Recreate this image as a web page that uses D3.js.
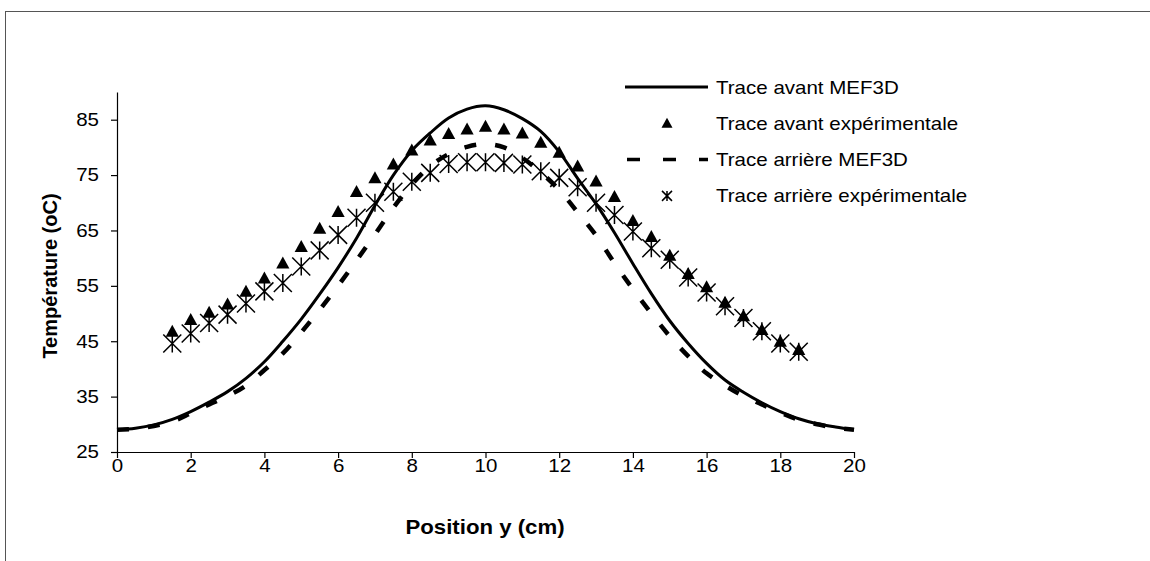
<!DOCTYPE html>
<html>
<head>
<meta charset="utf-8">
<script src="https://cdn.jsdelivr.net/npm/d3@7"></script>
<style>
  body { margin: 0; background: #fff; }
  svg text { font-family: "Liberation Sans", Arial, sans-serif; fill: #000; }
</style>
</head>
<body>
<svg id="chart" width="1150" height="561"></svg>
<script>
// simulated traces (MEF3D), every 0.5 cm
const simPositions = [0, 0.5, 1, 1.5, 2, 2.5, 3, 3.5, 4, 4.5, 5, 5.5, 6, 6.5, 7, 7.5, 8, 8.5, 9, 9.5,
  10, 10.5, 11, 11.5, 12, 12.5, 13, 13.5, 14, 14.5, 15, 15.5, 16, 16.5, 17, 17.5, 18, 18.5, 19, 19.5, 20];
const avantMef = [29.0, 29.3, 29.9, 30.9, 32.3, 34.0, 35.9, 38.3, 41.3, 45.0, 49.0, 53.5, 58.3, 63.6, 69.5, 75.0, 79.4, 82.6, 85.3, 86.9,
  87.5, 86.8, 85.2, 82.9, 79.2, 74.4, 69.8, 64.6, 59.0, 53.6, 48.7, 44.6, 41.0, 38.0, 35.8, 33.9, 32.3, 31.0, 30.1, 29.5, 29.0];
const arriereMef = [29.0, 29.2, 29.7, 30.5, 32.0, 33.6, 35.1, 37.0, 39.8, 42.8, 46.6, 50.7, 55.0, 59.6, 64.3, 69.1, 73.3, 76.6, 78.8, 80.1,
  80.6, 80.0, 78.1, 75.5, 72.3, 68.3, 64.1, 59.1, 54.4, 50.0, 45.9, 42.3, 39.2, 37.0, 35.1, 33.6, 32.1, 30.8, 30.0, 29.4, 29.0];

// measured traces, 1.5 to 18.5 cm
const expPositions = [1.5, 2, 2.5, 3, 3.5, 4, 4.5, 5, 5.5, 6, 6.5, 7, 7.5, 8, 8.5, 9, 9.5, 10, 10.5, 11,
  11.5, 12, 12.5, 13, 13.5, 14, 14.5, 15, 15.5, 16, 16.5, 17, 17.5, 18, 18.5];
const avantExp = [46.8, 48.9, 50.2, 51.7, 54.0, 56.4, 59.1, 62.1, 65.4, 68.4, 72.0, 74.5, 77.0, 79.5, 81.3, 82.5, 83.3, 83.8, 83.3, 82.6,
  80.9, 79.1, 76.6, 73.9, 71.1, 66.8, 63.9, 60.5, 57.2, 54.8, 52.0, 49.6, 47.1, 45.0, 43.5];
const arriereExp = [44.6, 46.4, 48.3, 49.8, 51.8, 54.0, 55.5, 58.5, 61.4, 64.2, 67.3, 70.0, 72.0, 73.8, 75.4, 77.0, 77.3, 77.3, 77.2, 76.9,
  75.7, 74.5, 72.8, 70.0, 67.8, 64.8, 61.8, 59.7, 56.5, 53.8, 51.3, 49.2, 46.8, 44.6, 43.1];

const xTicks = [0, 2, 4, 6, 8, 10, 12, 14, 16, 18, 20];
const yTicks = [25, 35, 45, 55, 65, 75, 85];
const legendLabels = ['Trace avant MEF3D', 'Trace avant expérimentale', 'Trace arrière MEF3D', 'Trace arrière expérimentale'];

// the scanned figure is a bit wider than tall, stretch text to match
const SX = 1.14;

const svg = d3.select('#chart');

svg.append('rect')
  .attr('x', 5.5).attr('y', 11.5)
  .attr('width', 1160).attr('height', 570)
  .attr('fill', 'none').attr('stroke', '#555').attr('stroke-width', 1);

const x = d3.scaleLinear().domain([0, 20]).range([117, 854]);
const y = d3.scaleLinear().domain([25, 90]).range([452, 92]);

const xAxis = svg.append('g')
  .attr('transform', `translate(0,${y(25)})`)
  .call(d3.axisBottom(x).tickValues(xTicks).tickSize(6).tickSizeOuter(0).tickFormat(d3.format('d')));
xAxis.selectAll('text')
  .attr('y', 7)
  .attr('font-size', 18)
  .attr('transform', `scale(${SX},1)`);

const yAxis = svg.append('g')
  .attr('transform', `translate(${x(0)},0)`)
  .call(d3.axisLeft(y).tickValues(yTicks).tickSize(6).tickSizeOuter(0).tickFormat(d3.format('d')));
yAxis.selectAll('text')
  .attr('x', -18 / SX)
  .attr('font-size', 18)
  .attr('transform', `scale(${SX},1)`);

svg.selectAll('.domain, .tick line').attr('stroke', '#000').attr('stroke-width', 1.2);

svg.append('text')
  .attr('transform', `translate(485,534) scale(${SX},1)`)
  .attr('text-anchor', 'middle')
  .attr('font-size', 19.5)
  .attr('font-weight', 'bold')
  .text('Position y (cm)');

svg.append('text')
  .attr('transform', 'translate(57,276) rotate(-90)')
  .attr('text-anchor', 'middle')
  .attr('font-size', 20)
  .attr('font-weight', 'bold')
  .text('Température (oC)');

const line = d3.line()
  .x((d) => x(d[0]))
  .y((d) => y(d[1]))
  .curve(d3.curveCatmullRom);

const tri = (s) => `M0,${-s * 0.55}L${s * 0.55},${s * 0.45}L${-s * 0.55},${s * 0.45}Z`;
const star = (s) => `M${-s},${-s}L${s},${s}M${-s},${s}L${s},${-s}M0,${-s}L0,${s}`;

const plot = svg.append('g');

// Trace avant MEF3D
plot.append('path')
  .datum(d3.zip(simPositions, avantMef))
  .attr('d', line)
  .attr('fill', 'none').attr('stroke', '#000').attr('stroke-width', 3);

// Trace avant expérimentale
plot.selectAll('.tri')
  .data(d3.zip(expPositions, avantExp))
  .join('path')
  .attr('class', 'tri')
  .attr('transform', (d) => `translate(${x(d[0])},${y(d[1])})`)
  .attr('d', tri(12))
  .attr('fill', '#000');

// Trace arrière MEF3D
plot.append('path')
  .datum(d3.zip(simPositions, arriereMef))
  .attr('d', line)
  .attr('fill', 'none').attr('stroke', '#000').attr('stroke-width', 4.5)
  .attr('stroke-dasharray', '12,19');

// Trace arrière expérimentale
plot.selectAll('.star')
  .data(d3.zip(expPositions, arriereExp))
  .join('path')
  .attr('class', 'star')
  .attr('transform', (d) => `translate(${x(d[0])},${y(d[1])})`)
  .attr('d', star(9))
  .attr('fill', 'none').attr('stroke', '#000').attr('stroke-width', 1.5);

// legend
const legend = svg.append('g');
const rowY = (i) => 87 + i * 36.3;

legend.append('line')
  .attr('x1', 625).attr('x2', 708).attr('y1', rowY(0)).attr('y2', rowY(0))
  .attr('stroke', '#000').attr('stroke-width', 3);
legend.append('path')
  .attr('transform', `translate(667,${rowY(1)})`)
  .attr('d', tri(10)).attr('fill', '#000');
legend.append('line')
  .attr('x1', 627).attr('x2', 708).attr('y1', rowY(2)).attr('y2', rowY(2))
  .attr('stroke', '#000').attr('stroke-width', 3.5)
  .attr('stroke-dasharray', '13,23');
legend.append('path')
  .attr('transform', `translate(667,${rowY(3)})`)
  .attr('d', star(5)).attr('fill', 'none').attr('stroke', '#000').attr('stroke-width', 1.5);

legend.selectAll('.label')
  .data(legendLabels)
  .join('text')
  .attr('class', 'label')
  .attr('transform', (d, i) => `translate(716,${rowY(i) + 6.5}) scale(${SX},1)`)
  .attr('font-size', 18)
  .text((d) => d);
</script>
</body>
</html>
